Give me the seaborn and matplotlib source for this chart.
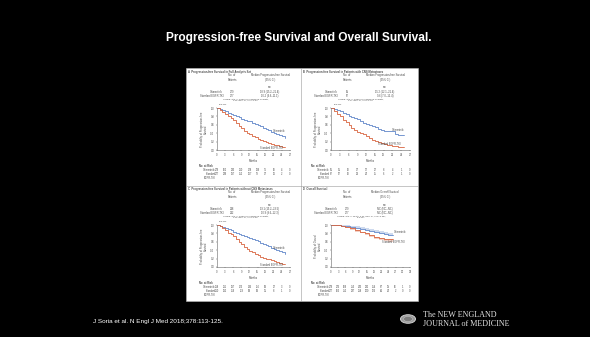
import matplotlib
matplotlib.use("Agg")
import matplotlib.pyplot as plt
import seaborn as sns
import pandas as pd
from matplotlib.patches import Rectangle, Circle

sns.set_style("white")
plt.rcParams['font.family'] = ['Liberation Sans', 'DejaVu Sans']

# ---- data ----
months_pfs = [0, 1, 2, 3, 4, 5, 6, 7, 8, 9, 10, 11, 12, 13, 14, 15, 16, 17, 18, 19, 20, 21, 22, 23, 24, 25]
osi_a = [1.0, 0.98, 0.96, 0.93, 0.89, 0.86, 0.83, 0.80, 0.78, 0.75, 0.72, 0.70, 0.68, 0.65, 0.62, 0.59, 0.56, 0.53, 0.51, 0.47, 0.44, 0.41, 0.38, 0.36, 0.34, 0.28]
std_a = [1.0, 0.96, 0.91, 0.86, 0.80, 0.76, 0.71, 0.64, 0.58, 0.52, 0.46, 0.41, 0.37, 0.33, 0.30, 0.27, 0.24, 0.21, 0.19, 0.17, 0.15, 0.13, 0.11, 0.10, 0.08, 0.06]
osi_b = [1.0, 0.97, 0.95, 0.92, 0.88, 0.85, 0.82, 0.79, 0.76, 0.73, 0.68, 0.64, 0.62, 0.60, 0.57, 0.55, 0.51, 0.47, 0.45, 0.45, 0.45, 0.45, 0.38, 0.36, 0.36, 0.36]
std_b = [1.0, 0.92, 0.86, 0.80, 0.72, 0.66, 0.60, 0.53, 0.48, 0.44, 0.40, 0.37, 0.33, 0.29, 0.25, 0.21, 0.18, 0.16, 0.15, 0.13, 0.12, 0.10, 0.09, 0.08, 0.08, 0.08]
osi_c = [1.0, 0.98, 0.96, 0.94, 0.90, 0.87, 0.84, 0.81, 0.79, 0.76, 0.74, 0.72, 0.70, 0.67, 0.64, 0.61, 0.58, 0.55, 0.53, 0.49, 0.46, 0.43, 0.40, 0.38, 0.36, 0.30]
std_c = [1.0, 0.97, 0.92, 0.88, 0.82, 0.78, 0.73, 0.66, 0.60, 0.54, 0.48, 0.43, 0.39, 0.35, 0.32, 0.28, 0.25, 0.22, 0.20, 0.18, 0.16, 0.14, 0.12, 0.10, 0.08, 0.06]

months_os = [0, 2, 4, 6, 8, 10, 12, 14, 16, 18, 20, 22, 24, 26]
osi_d = [1.0, 0.995, 0.98, 0.97, 0.95, 0.93, 0.90, 0.88, 0.86, 0.84, 0.81, 0.78, 0.76, 0.76]
std_d = [1.0, 0.99, 0.97, 0.95, 0.92, 0.88, 0.84, 0.80, 0.76, 0.72, 0.69, 0.67, 0.66, 0.66]

ticks_pfs = [0, 3, 6, 9, 12, 15, 18, 21, 24, 27]
ticks_os = [0, 3, 6, 9, 12, 15, 18, 21, 24, 27, 30, 33]
risk_osi_a = [279, 262, 233, 210, 178, 139, 71, 26, 4, 0]
risk_std_a = [277, 239, 197, 152, 107, 78, 37, 10, 2, 0]
risk_osi_b = [61, 51, 46, 37, 32, 22, 8, 4, 1, 0]
risk_std_b = [67, 57, 46, 33, 24, 15, 6, 2, 1, 0]
risk_osi_c = [218, 211, 187, 173, 146, 116, 63, 22, 3, 0]
risk_std_c = [210, 182, 159, 119, 83, 63, 31, 8, 1, 0]
risk_osi_d = [279, 276, 269, 253, 243, 232, 154, 87, 39, 16, 1, 0]
risk_std_d = [277, 263, 252, 237, 218, 200, 126, 64, 24, 2, 0, 0]

BLUE = "#5f86c9"
RED = "#d8643f"
TXT = "#4a4a4a"
W, H = 590, 337

fig = plt.figure(figsize=(5.9, 3.37), dpi=100, facecolor="black")


def px(x, y):
    return x / W, 1 - y / H


def add_text(x, y, s, **kw):
    kw.setdefault("color", TXT)
    kw.setdefault("fontsize", 1.9)
    kw.setdefault("va", "center")
    fig.text(*px(x, y), s, **kw)


# white panel with dividers (kept behind the axes)
fig.patches.append(Rectangle(px(186, 301), (418 - 186) / W, (301 - 68) / H, zorder=-10,
                             transform=fig.transFigure, facecolor="white", edgecolor="#bbbbbb", lw=0.4))
fig.add_artist(plt.Line2D([301 / W, 301 / W], [1 - 68 / H, 1 - 301 / H], color="#999999", lw=0.4, zorder=-5))
fig.add_artist(plt.Line2D([186 / W, 418 / W], [1 - 186 / H, 1 - 186 / H], color="#999999", lw=0.4, zorder=-5))

fig.text(299 / W, 1 - 38 / H, "Progression-free Survival and Overall Survival.",
         color="white", fontsize=8.6, fontweight="bold", ha="center", va="center")
fig.text(93 / W, 1 - 322 / H, "J Soria et al. N Engl J Med 2018;378:113-125.",
         color="white", fontsize=4.6, ha="left", va="center")
fig.patches.append(Circle(px(408, 319), 7.5 / W, transform=fig.transFigure,
                          facecolor="#9a9a9a", edgecolor="#d0d0d0", lw=0.7))
fig.patches.append(Circle(px(408, 319), 4.5 / W, transform=fig.transFigure,
                          facecolor="#7c7c7c", edgecolor="#c0c0c0", lw=0.4))
fig.text(423 / W, 1 - 315 / H, "The NEW ENGLAND", color="#e0e0e0", fontsize=5.9,
         family="Liberation Serif", va="center")
fig.text(423 / W, 1 - 324 / H, "JOURNAL of MEDICINE", color="#e0e0e0", fontsize=5.9,
         family="Liberation Serif", va="center")


def panel(ox, oy, rect, title, col2, rows, hr, pval, months, osi, std, ticks,
          risk_osi, risk_std, ylab, osi_lab, std_lab, band=False):
    add_text(ox + 2, oy + 4, title, ha="left", fontsize=2.0, fontweight="bold")
    add_text(ox + 46, oy + 9.5, "No. of\nPatients", ha="center")
    add_text(ox + 84, oy + 9.5, col2, ha="center")
    add_text(ox + 84, oy + 19.5, "mo", ha="center")
    for i, (name, n, med) in enumerate(rows):
        yy = oy + 24 + i * 3.6
        add_text(ox + 37, yy, name, ha="right")
        add_text(ox + 46, yy, n, ha="center")
        add_text(ox + 84, yy, med, ha="center")
    add_text(ox + 60, oy + 32, hr, ha="center", fontsize=1.6)
    if pval:
        add_text(ox + 33, oy + 36.5, pval, ha="left", fontsize=1.6)

    x0, y0, x1, y1 = rect
    ax = fig.add_axes([x0 / W, 1 - y1 / H, (x1 - x0) / W, (y1 - y0) / H])
    ax.set_facecolor("white")
    df = pd.DataFrame({
        "month": list(months) * 2,
        "surv": list(osi) + list(std),
        "arm": ["Osimertinib"] * len(months) + ["Standard EGFR-TKI"] * len(months),
    })
    if band:
        ax.fill_between(months, osi, [min(1, v + 0.025 + m * 0.0015) for v, m in zip(osi, months)],
                        step="post", color=BLUE, alpha=0.3, lw=0)
        ax.fill_between(months, std, [max(0, v - 0.02 - m * 0.0015) for v, m in zip(std, months)],
                        step="post", color=RED, alpha=0.3, lw=0)
    sns.lineplot(data=df, x="month", y="surv", hue="arm", palette=[BLUE, RED],
                 drawstyle="steps-post", estimator=None, legend=False, lw=0.6, ax=ax)
    ax.set_xlim(0, ticks[-1])
    ax.set_ylim(0, 1.0)
    ax.set_xticks(ticks)
    ax.set_yticks([0, 0.2, 0.4, 0.6, 0.8, 1.0])
    ax.set_yticklabels(["0.0", "0.2", "0.4", "0.6", "0.8", "1.0"])
    ax.tick_params(labelsize=1.9, length=1, width=0.3, pad=1, colors=TXT, left=True, bottom=True)
    for s in ["top", "right"]:
        ax.spines[s].set_visible(False)
    for s in ["left", "bottom"]:
        ax.spines[s].set_linewidth(0.4)
        ax.spines[s].set_color("#666666")
    ax.set_xlabel("Months", fontsize=2.0, color=TXT, labelpad=1.5)
    ax.set_ylabel(ylab, fontsize=1.9, color=TXT, labelpad=1.5)
    ax.text(osi_lab[0], osi_lab[1], "Osimertinib", fontsize=1.8, color=TXT, ha="center")
    ax.text(std_lab[0], std_lab[1], "Standard EGFR-TKI", fontsize=1.8, color=TXT, ha="center")

    tr = ax.get_xaxis_transform()
    ax.text(-0.25, -0.37, "No. at Risk", transform=ax.transAxes, fontsize=1.9, color=TXT,
            ha="left", va="center", fontweight="bold")
    ax.text(-0.02, -0.47, "Osimertinib", transform=ax.transAxes, fontsize=1.8, color=TXT, ha="right", va="center")
    ax.text(-0.02, -0.57, "Standard", transform=ax.transAxes, fontsize=1.8, color=TXT, ha="right", va="center")
    ax.text(-0.02, -0.66, "EGFR-TKI", transform=ax.transAxes, fontsize=1.8, color=TXT, ha="right", va="center")
    for t, a, b in zip(ticks, risk_osi, risk_std):
        ax.text(t, -0.47, str(a), transform=tr, fontsize=1.8, color=TXT, ha="center", va="center")
        ax.text(t, -0.57, str(b), transform=tr, fontsize=1.8, color=TXT, ha="center", va="center")
    return ax


pfs_col = "Median Progression-free Survival\n(95% CI)"

panel(186, 68, (217, 108, 290, 150), "A  Progression-free Survival in Full Analysis Set", pfs_col,
      [("Osimertinib", "279", "18.9 (15.2\u201321.4)"), ("Standard EGFR-TKI", "277", "10.2 (9.6\u201311.1)")],
      "Hazard ratio for disease progression or death,\n0.46 (95% CI, 0.37\u20130.57)", "P<0.001",
      months_pfs, osi_a, std_a, ticks_pfs, risk_osi_a, risk_std_a,
      "Probability of Progression-free\nSurvival", (23, 0.42), (20, 0.02))

panel(301, 68, (331, 108, 410, 150), "B  Progression-free Survival in Patients with CNS Metastases", pfs_col,
      [("Osimertinib", "61", "15.2 (12.1\u201321.4)"), ("Standard EGFR-TKI", "67", "9.6 (7.0\u201312.4)")],
      "Hazard ratio for disease progression or death,\n0.47 (95% CI, 0.30\u20130.74)", "P<0.001",
      months_pfs, osi_b, std_b, ticks_pfs, risk_osi_b, risk_std_b,
      "Probability of Progression-free\nSurvival", (23, 0.46), (20, 0.12))

panel(186, 185, (217, 225, 290, 267), "C  Progression-free Survival in Patients without CNS Metastases", pfs_col,
      [("Osimertinib", "218", "19.1 (15.2\u201323.5)"), ("Standard EGFR-TKI", "212", "10.9 (9.6\u201312.3)")],
      "Hazard ratio for disease progression or death,\n0.46 (95% CI, 0.36\u20130.59)", "P<0.001",
      months_pfs, osi_c, std_c, ticks_pfs, risk_osi_c, risk_std_c,
      "Probability of Progression-free\nSurvival", (23, 0.44), (20, 0.02))

panel(301, 185, (331, 225, 410, 267), "D  Overall Survival", "Median Overall Survival\n(95% CI)",
      [("Osimertinib", "279", "NC (NC\u2013NC)"), ("Standard EGFR-TKI", "277", "NC (NC\u2013NC)")],
      "Hazard ratio for death, 0.63 (95% CI, 0.45\u20130.88);\nP=0.007", None,
      months_os, osi_d, std_d, ticks_os, risk_osi_d, risk_std_d,
      "Probability of Overall\nSurvival", (29, 0.8), (26, 0.58), band=True)

fig.savefig("out.png", dpi=100, facecolor="black")
